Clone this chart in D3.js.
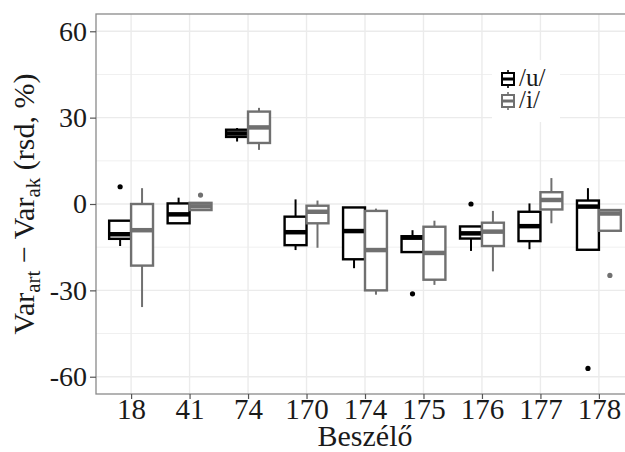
<!DOCTYPE html>
<html>
<head>
<meta charset="utf-8">
<script src="https://cdn.jsdelivr.net/npm/d3@7"></script>
<style>
  body { margin: 0; background: #fff; }
  svg text { font-family: "Liberation Serif", "Times New Roman", Times, serif; }
</style>
</head>
<body>
<svg id="chart" width="625" height="452"></svg>
<script>
// speakers on the x axis
var speakers = ['18', '41', '74', '170', '174', '175', '176', '177', '178'];
var yTicks = [-60, -30, 0, 30, 60];
var yMinor = [-45, -15, 15, 45];

// /u/ boxes: [lower whisker, q1, median, q3, upper whisker]
var uStats = [
    [-14.6, -12.1, -10.5, -5.8, -5.8],
    [-6.7, -6.7, -3.6, 0.2, 2.2],
    [21.7, 23.3, 24.5, 25.8, 26.4],
    [-16.0, -14.3, -9.8, -4.4, 1.6],
    [-22.3, -19.2, -9.4, -1.2, -1.2],
    [-16.7, -16.7, -11.7, -11.2, -9.1],
    [-16.3, -12.0, -10.2, -7.8, -7.8],
    [-15.7, -12.9, -7.7, -2.7, 0.2],
    [-15.9, -15.9, -0.9, 1.2, 5.5]
];
var uOutliers = [[6.0], [], [], [], [], [-31.2], [0.0], [], [-57.1]];

// /i/ boxes
var iStats = [
    [-35.8, -21.4, -9.1, 0.0, 5.5],
    [-2.1, -2.1, -0.8, 0.4, 0.4],
    [18.8, 21.2, 26.6, 32.1, 33.4],
    [-15.2, -6.7, -2.7, -0.6, 1.2],
    [-31.5, -30.0, -16.0, -2.4, -1.6],
    [-28.1, -26.3, -17.0, -7.9, -5.8],
    [-23.4, -14.6, -9.6, -6.5, -2.4],
    [-6.7, -1.9, 1.4, 4.1, 9.0],
    [-9.3, -9.3, -3.3, -2.1, -2.1]
];
var iOutliers = [[], [3.1], [], [], [], [], [], [], [-24.8]];

var seriesNames = ['/u/', '/i/'];
var seriesColors = ['#000000', '#707070'];

var svg = d3.select('#chart');
var pLeft = 96, pRight = 634, pTop = 14, pBottom = 394;
var serif = '"Liberation Serif", "Times New Roman", Times, serif';

var x = d3.scaleLinear().domain([0.4, speakers.length + 0.6]).range([pLeft, pRight]);
var y = d3.scaleLinear().domain([-66, 66]).range([pBottom, pTop]);

var panel = svg.append('g');
panel.append('rect')
    .attr('x', pLeft).attr('y', pTop)
    .attr('width', pRight - pLeft).attr('height', pBottom - pTop)
    .attr('fill', '#fff');

panel.selectAll('line.minor')
    .data(yMinor)
    .enter().append('line')
        .attr('class', 'minor')
        .attr('x1', pLeft).attr('x2', pRight)
        .attr('y1', y).attr('y2', y)
        .attr('stroke', '#f0f0f0').attr('stroke-width', 1);

panel.selectAll('line.major')
    .data(yTicks)
    .enter().append('line')
        .attr('class', 'major')
        .attr('x1', pLeft).attr('x2', pRight)
        .attr('y1', y).attr('y2', y)
        .attr('stroke', '#ebebeb').attr('stroke-width', 1.4);

panel.selectAll('line.vert')
    .data(speakers)
    .enter().append('line')
        .attr('class', 'vert')
        .attr('x1', function(d, i) { return x(i + 1); })
        .attr('x2', function(d, i) { return x(i + 1); })
        .attr('y1', pTop).attr('y2', pBottom)
        .attr('stroke', '#ebebeb').attr('stroke-width', 1.4);

var boxW = 0.375;

function drawSeries(stats, outliers, offset, color) {
    var g = svg.append('g');
    var bw = x(boxW) - x(0);
    stats.forEach(function(s, i) {
        var cx = x(i + 1 + offset);
        var b = g.append('g');
        b.append('line')
            .attr('x1', cx).attr('x2', cx)
            .attr('y1', y(s[4])).attr('y2', y(s[3]))
            .attr('stroke', color).attr('stroke-width', 2);
        b.append('line')
            .attr('x1', cx).attr('x2', cx)
            .attr('y1', y(s[1])).attr('y2', y(s[0]))
            .attr('stroke', color).attr('stroke-width', 2);
        b.append('rect')
            .attr('x', cx - bw / 2).attr('y', y(s[3]))
            .attr('width', bw).attr('height', Math.max(0.5, y(s[1]) - y(s[3])))
            .attr('fill', '#fff').attr('stroke', color).attr('stroke-width', 2.4);
        b.append('line')
            .attr('x1', cx - bw / 2).attr('x2', cx + bw / 2)
            .attr('y1', y(s[2])).attr('y2', y(s[2]))
            .attr('stroke', color).attr('stroke-width', 4.5);
    });
    outliers.forEach(function(list, i) {
        g.selectAll(null)
            .data(list)
            .enter().append('circle')
                .attr('cx', x(i + 1 + offset))
                .attr('cy', y)
                .attr('r', 2.6)
                .attr('fill', color);
    });
}

drawSeries(uStats, uOutliers, -boxW / 2, seriesColors[0]);
drawSeries(iStats, iOutliers, boxW / 2, seriesColors[1]);

// panel border
svg.append('rect')
    .attr('x', pLeft).attr('y', pTop)
    .attr('width', pRight - pLeft).attr('height', pBottom - pTop)
    .attr('fill', 'none').attr('stroke', '#8a8a8a').attr('stroke-width', 1.3);

// axes
var yAxis = svg.append('g')
    .attr('transform', 'translate(' + pLeft + ',0)')
    .call(d3.axisLeft(y).tickValues(yTicks)
        .tickFormat(function(d) { return String(d); })
        .tickSize(6).tickPadding(3));
var xAxis = svg.append('g')
    .attr('transform', 'translate(0,' + pBottom + ')')
    .call(d3.axisBottom(x).tickValues(d3.range(1, speakers.length + 1))
        .tickFormat(function(d) { return speakers[d - 1]; })
        .tickSize(5).tickPadding(3));

[yAxis, xAxis].forEach(function(a) {
    a.attr('font-family', serif);
    a.select('.domain').remove();
    a.selectAll('line').attr('stroke', '#555').attr('stroke-width', 1.2);
    a.selectAll('text')
        .attr('fill', '#1a1a1a')
        .style('font-size', '28px')
        .style('font-family', serif);
});
xAxis.selectAll('text').style('font-size', '29px').attr('dy', '0.6em');

// axis titles
svg.append('text')
    .attr('x', (pLeft + pRight) / 2).attr('y', 446)
    .attr('text-anchor', 'middle')
    .attr('fill', '#1a1a1a')
    .style('font-size', '30px')
    .text('Beszélő');

var yt = svg.append('text')
    .attr('transform', 'translate(34,' + (pTop + pBottom) / 2 + ') rotate(-90)')
    .attr('text-anchor', 'middle')
    .attr('fill', '#1a1a1a')
    .style('font-size', '30px');
yt.append('tspan').text('Var');
yt.append('tspan').attr('baseline-shift', '-28%').style('font-size', '21px').text('art');
yt.append('tspan').text(' \u2212 Var');
yt.append('tspan').attr('baseline-shift', '-28%').style('font-size', '21px').text('ak');
yt.append('tspan').text(' (rsd, %)');

// legend
var legend = svg.append('g');
legend.append('rect')
    .attr('x', 492).attr('y', 60)
    .attr('width', 68).attr('height', 62)
    .attr('fill', '#fff');

var keys = legend.selectAll('g.key')
    .data(seriesNames)
    .enter().append('g')
        .attr('class', 'key')
        .attr('transform', function(d, i) { return 'translate(500,' + (70 + i * 22) + ')'; });

keys.append('line')
    .attr('x1', 8).attr('x2', 8).attr('y1', 0).attr('y2', 18)
    .attr('stroke', function(d, i) { return seriesColors[i]; })
    .attr('stroke-width', 1.6);
keys.append('rect')
    .attr('x', 2).attr('y', 3).attr('width', 12).attr('height', 12)
    .attr('fill', '#fff')
    .attr('stroke', function(d, i) { return seriesColors[i]; })
    .attr('stroke-width', 2);
keys.append('line')
    .attr('x1', 2).attr('x2', 14).attr('y1', 9).attr('y2', 9)
    .attr('stroke', function(d, i) { return seriesColors[i]; })
    .attr('stroke-width', 3);
keys.append('text')
    .attr('x', 19).attr('y', 16)
    .attr('fill', '#1a1a1a')
    .style('font-size', '25px')
    .text(function(d) { return d; });
</script>
</body>
</html>
